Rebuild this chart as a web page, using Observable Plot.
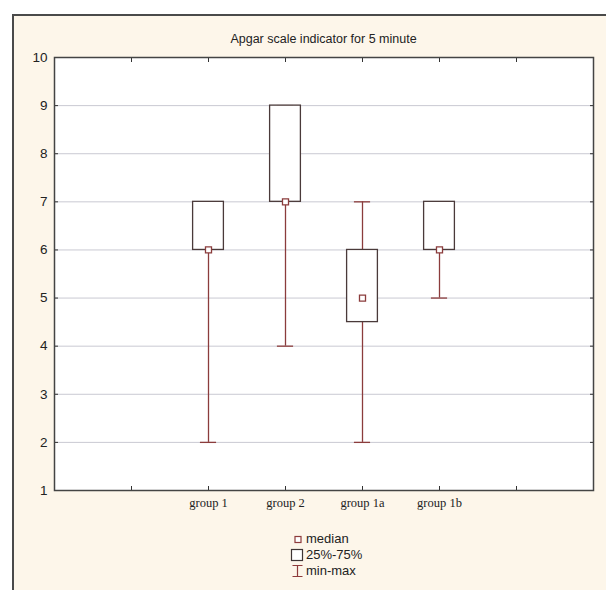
<!DOCTYPE html>
<html><head><meta charset="utf-8">
<script src="https://cdn.jsdelivr.net/npm/d3@7"></script>
<script src="https://cdn.jsdelivr.net/npm/@observablehq/plot@0.6"></script>
<style>
html,body{margin:0;padding:0;background:#fff;width:606px;height:590px;overflow:hidden;font-family:"Liberation Sans",Arial,sans-serif;}
#frame{position:absolute;left:12px;top:14px;width:640px;height:620px;border-left:2px solid #4a4a4a;border-top:2px solid #4a4a4a;background:#fdf6ea;}
#title{position:absolute;left:54px;width:539px;top:32px;text-align:center;font-size:12.5px;color:#222;}
#chart{position:absolute;left:0;top:47px;}
#legend{position:absolute;left:290px;top:531px;font-size:13px;color:#222;line-height:16px;}
#legend div{display:flex;align-items:center;height:16px;}
#legend svg{margin-right:2px;}
</style></head>
<body>
<div id="frame"></div>
<div id="title">Apgar scale indicator for 5 minute</div>
<div id="chart"></div>
<div id="legend">
  <div><svg width="14" height="14"><rect x="5" y="4.5" width="6" height="6" fill="white" stroke="#8e3b3b" stroke-width="1.2"/></svg>median</div>
  <div><svg width="14" height="14"><rect x="1.5" y="1.5" width="11" height="11" fill="white" stroke="#3e3535" stroke-width="1.2"/></svg>25%-75%</div>
  <div><svg width="14" height="14"><path d="M2.5,1.5H12.5M7.5,1.5V12.5M2.5,12.5H12.5" fill="none" stroke="#8e3b3b" stroke-width="1.2"/></svg>min-max</div>
</div>
<script>
const categories = ["group 1", "group 2", "group 1a", "group 1b"];
const minVals    = [2, 4, 2, 5];
const q1Vals     = [6, 7, 4.5, 6];
const medianVals = [6, 7, 5, 6];
const q3Vals     = [7, 9, 6, 7];
const maxVals    = [7, 9, 7, 7];
const yTicks = [1, 2, 3, 4, 5, 6, 7, 8, 9, 10];
const xTicks = [-1, 0, 1, 2, 3, 4];

const data = categories.map((c, i) => ({
  c, i, min: minVals[i], q1: q1Vals[i], med: medianVals[i], q3: q3Vals[i], max: maxVals[i]
}));

const whisk = "#8b3c3c";
const boxc = "#4a3a3a";

const chart = Plot.plot({
  width: 606, height: 468,
  marginLeft: 54, marginRight: 13, marginTop: 10, marginBottom: 25,
  style: {background: "transparent", fontFamily: "'Liberation Sans', Arial, sans-serif", fontSize: "13px", color: "#222"},
  x: {domain: [-2, 5]},
  y: {domain: [1, 10]},
  marks: [
    Plot.frame({fill: "white"}),
    Plot.gridY(yTicks.slice(1, -1), {stroke: "#c9c9d2", strokeOpacity: 1}),
    Plot.ruleX(data, {x: "i", y1: "min", y2: "max", stroke: whisk, strokeWidth: 1.3}),
    Plot.ruleY(data, {y: "min", x1: d => d.i - 0.105, x2: d => d.i + 0.105, stroke: whisk, strokeWidth: 1.3}),
    Plot.ruleY(data, {y: "max", x1: d => d.i - 0.105, x2: d => d.i + 0.105, stroke: whisk, strokeWidth: 1.3}),
    Plot.rect(data, {x1: d => d.i - 0.2, x2: d => d.i + 0.2, y1: "q1", y2: "q3", fill: "white", stroke: boxc, strokeWidth: 1.3}),
    Plot.dot(data, {x: "i", y: "med", symbol: "square", r: 3.4, fill: "white", stroke: whisk, strokeWidth: 1.3}),
    Plot.axisY(yTicks, {anchor: "left", tickSize: -4, tickPadding: 11, label: null, fontSize: 13.5, stroke: "#333"}),
    Plot.axisY(yTicks, {anchor: "right", tickSize: -4, tickFormat: () => "", label: null, stroke: "#333"}),
    Plot.axisX(xTicks, {anchor: "bottom", tickSize: -4, tickPadding: 12, label: null,
      tickFormat: d => categories[d] ?? "", fontFamily: "'Liberation Serif', 'Times New Roman', serif", fontSize: 12.5, stroke: "#333"}),
    Plot.axisX(xTicks, {anchor: "top", tickSize: -4, tickFormat: () => "", label: null, stroke: "#333"}),
    Plot.frame({stroke: "#444", strokeWidth: 1.5})
  ]
});
document.getElementById("chart").appendChild(chart);
</script>
</body></html>
